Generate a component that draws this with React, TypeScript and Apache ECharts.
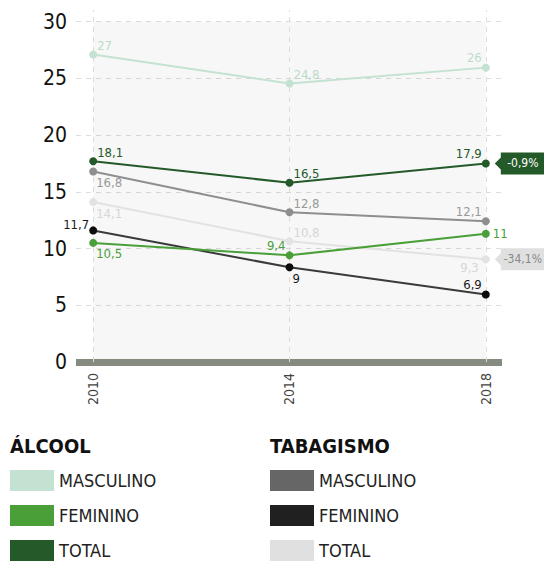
import React, { useEffect, useRef } from "react";
import * as echarts from "echarts";

const FONT = "'Liberation Sans Narrow', 'DejaVu Sans Condensed', 'Roboto', sans-serif";

const years = [2010, 2014, 2018];
const yTicks = [0, 5, 10, 15, 20, 25, 30];

// Plotted positions and the printed labels
const alcMasc = [27.1, 24.55, 25.95];
const alcMascLabels = ["27", "24,8", "26"];
const alcFem = [10.5, 9.4, 11.3];
const alcFemLabels = ["10,5", "9,4", "11"];
const alcTot = [17.7, 15.8, 17.5];
const alcTotLabels = ["18,1", "16,5", "17,9"];
const tabMasc = [16.8, 13.2, 12.4];
const tabMascLabels = ["16,8", "12,8", "12,1"];
const tabFem = [11.6, 8.35, 5.95];
const tabFemLabels = ["11,7", "9", "6,9"];
const tabTot = [14.1, 10.65, 9.05];
const tabTotLabels = ["14,1", "10,8", "9,3"];

const alcTotChange = "-0,9%";
const tabTotChange = "-34,1%";

const groupTitles = ["ÁLCOOL", "TABAGISMO"];
const legendNames = ["MASCULINO", "FEMININO", "TOTAL"];

function placeLabel(p: string, text: string, color: string) {
  const base: any = { show: true, formatter: text, color, fontSize: 13, fontFamily: FONT, distance: 0 };
  switch (p) {
    case "ur": return { ...base, position: "right", offset: [0, -9] };
    case "dr": return { ...base, position: "right", offset: [-1, 11] };
    case "ul": return { ...base, position: "left", offset: [0, -10] };
    case "ul2": return { ...base, position: "left", offset: [0, -6] };
    case "dl": return { ...base, position: "left", offset: [-3, 8] };
    default: return { ...base, position: "right", offset: [3, 0] };
  }
}

function lineSeries(
  name: string,
  values: number[],
  labels: string[],
  places: string[],
  lineColor: string,
  pointColor: string,
  labelColor: string
) {
  return {
    type: "line",
    name,
    symbol: "circle",
    symbolSize: 8,
    lineStyle: { color: lineColor, width: 2 },
    itemStyle: { color: pointColor },
    data: values.map((v, i) => ({
      value: [years[i], v],
      label: placeLabel(places[i], labels[i], labelColor),
    })),
  };
}

function tag(value: number, text: string, bg: string, fg: string) {
  return {
    silent: true,
    data: [
      {
        coord: [years[years.length - 1], value],
        symbol: "path://M0,11 L6,5 L6,0 L50,0 L50,22 L6,22 L6,17 Z",
        symbolSize: [50, 22],
        symbolOffset: [34, 0],
        itemStyle: { color: bg },
        label: {
          show: true,
          position: "inside",
          formatter: text,
          color: fg,
          fontSize: 12,
          fontFamily: FONT,
          offset: [3, 0],
        },
      },
    ],
  };
}

export default function App() {
  const ref = useRef<HTMLDivElement>(null);
  useEffect(() => {
    document.body.style.margin = "0";
    const chart = echarts.init(ref.current!, null, { renderer: "svg" });
    const legendCommon = {
      orient: "vertical",
      top: 470,
      height: 100,
      padding: 0,
      icon: "rect",
      itemWidth: 44,
      itemHeight: 21,
      itemGap: 14,
      selectedMode: false,
      formatter: (n: string) => n.split("|")[1],
      textStyle: { fontSize: 18, lineHeight: 21, color: "#222", fontFamily: FONT },
    };
    chart.setOption({
      animation: false,
      grid: { left: 76, right: 42, top: 10, bottom: 199 },
      xAxis: {
        type: "value",
        min: 2009.65,
        max: 2018.33,
        axisLine: { show: true, lineStyle: { color: "#858b7f", width: 7, cap: "butt" } },
        axisTick: { show: false },
        splitLine: { show: false },
        axisLabel: {
          customValues: years,
          rotate: 90,
          margin: 11,
          color: "#444",
          fontSize: 14,
          fontFamily: FONT,
          formatter: (v: number) => String(v),
        },
      },
      yAxis: {
        type: "value",
        min: 0,
        max: 31.03,
        interval: 5,
        axisLine: { show: false },
        axisTick: { show: false },
        axisLabel: {
          customValues: yTicks,
          margin: 9,
          color: "#111",
          fontSize: 21,
          fontFamily: FONT,
          formatter: (v: number) => String(v),
        },
        splitLine: {
          show: true,
          showMaxLine: false,
          showMinLine: false,
          lineStyle: { type: [5, 5], color: "#dcdcdc", width: 1 },
        },
      },
      legend: [
        {
          ...legendCommon,
          left: 10,
          data: [
            { name: "alc|MASCULINO", itemStyle: { color: "#c3e2d1" } },
            { name: "alc|FEMININO", itemStyle: { color: "#4a9f38" } },
            { name: "alc|TOTAL", itemStyle: { color: "#245a29" } },
          ],
        },
        {
          ...legendCommon,
          left: 270,
          data: [
            { name: "tab|MASCULINO", itemStyle: { color: "#666666" } },
            { name: "tab|FEMININO", itemStyle: { color: "#202020" } },
            { name: "tab|TOTAL", itemStyle: { color: "#e0e0e0" } },
          ],
        },
      ],
      graphic: [
        {
          type: "text",
          left: 10,
          top: 436,
          style: { text: groupTitles[0], fontSize: 20, fontWeight: "bold", fill: "#111", fontFamily: FONT },
        },
        {
          type: "text",
          left: 270,
          top: 436,
          style: { text: groupTitles[1], fontSize: 20, fontWeight: "bold", fill: "#111", fontFamily: FONT },
        },
      ],
      series: [
        {
          ...lineSeries("tab|" + legendNames[2], tabTot, tabTotLabels, ["dr", "ur", "dl"], "#e2e2e2", "#e2e2e2", "#d6d6d6"),
          markArea: {
            silent: true,
            z: 0,
            itemStyle: { color: "rgba(0,0,0,0.03)" },
            data: [[{ xAxis: years[0], yAxis: 0 }, { xAxis: years[2], yAxis: 30 }]],
          },
          markLine: {
            silent: true,
            z: 1,
            symbol: "none",
            label: { show: false },
            lineStyle: { type: [5, 5], color: "#dcdcdc", width: 1 },
            data: years.map((y) => ({ xAxis: y })),
          },
          markPoint: tag(tabTot[2], tabTotChange, "#e0e0e0", "#888"),
        },
        lineSeries("tab|" + legendNames[0], tabMasc, tabMascLabels, ["dr", "ur", "ul"], "#8e8e8e", "#8e8e8e", "#999"),
        lineSeries("tab|" + legendNames[1], tabFem, tabFemLabels, ["ul2", "dr", "ul"], "#3a3a3a", "#0d0d0d", "#1a1a1a"),
        lineSeries("alc|" + legendNames[0], alcMasc, alcMascLabels, ["ur", "ur", "ul"], "#c3e2d1", "#c3e2d1", "#bcdcca"),
        lineSeries("alc|" + legendNames[1], alcFem, alcFemLabels, ["dr", "ul", "r"], "#4a9f38", "#4a9f38", "#4a9f38"),
        {
          ...lineSeries("alc|" + legendNames[2], alcTot, alcTotLabels, ["ur", "ur", "ul"], "#245a29", "#245a29", "#245a29"),
          markPoint: tag(alcTot[2], alcTotChange, "#245a29", "#fff"),
        },
      ],
    });
    return () => chart.dispose();
  }, []);
  return <div ref={ref} style={{ width: 544, height: 561 }} />;
}
